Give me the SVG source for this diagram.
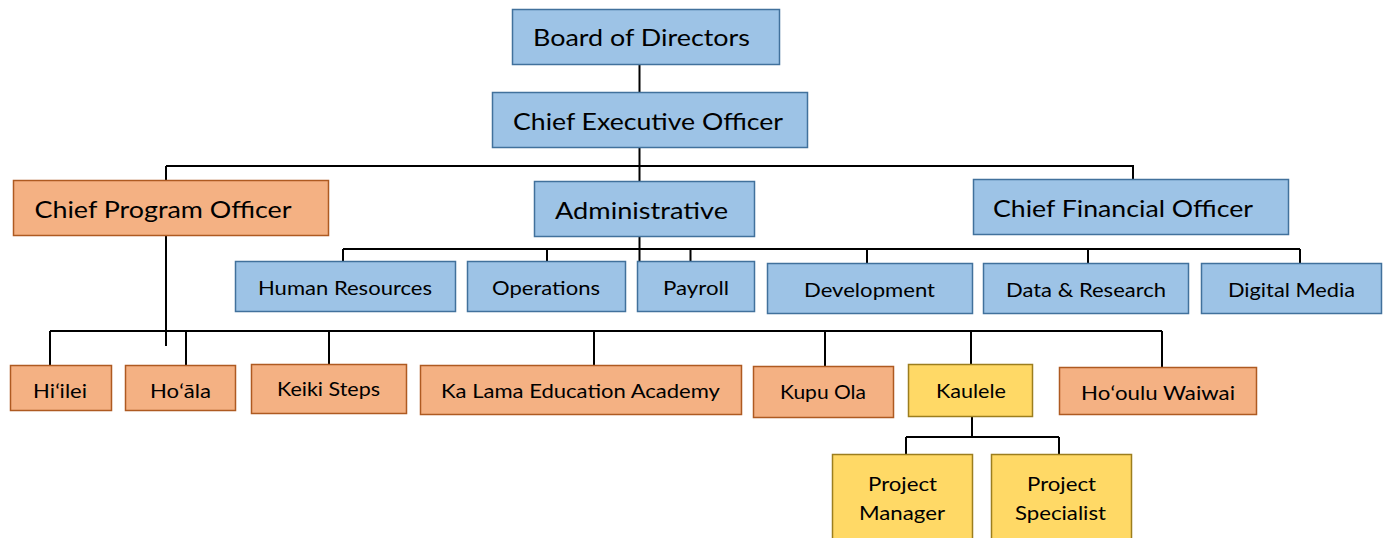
<svg xmlns="http://www.w3.org/2000/svg" width="1387" height="538" viewBox="0 0 1387 538">
  <style>
    .blue { fill: #9DC3E6; stroke: #41719C; stroke-width: 1.5; }
    .orange { fill: #F4B183; stroke: #AE5A21; stroke-width: 1.5; }
    .yellow { fill: #FFD966; stroke: #9C7E1E; stroke-width: 1.5; }
    text { font-family: Lato, "Open Sans", sans-serif; fill: #000; text-anchor: middle; }
    .lg { font-size: 24px; }
    .md { font-size: 20px; }
    #connectors path { fill: none; stroke: #000; stroke-width: 2; }
  </style>
  <rect width="1387" height="538" fill="#fff"/>

  <g id="connectors">
    <path d="M639.5 64 V93"/>
    <path d="M639.5 148 V262"/>
    <path d="M166 166 H1133 V179"/>
    <path d="M166 166 V346"/>
    <path d="M343 249 H1300"/>
    <path d="M343 249 V261 M547 249 V261 M690.5 249 V261 M867 249 V263 M1088 249 V263 M1300 249 V263"/>
    <path d="M50 331 H1162"/>
    <path d="M50 331 V365 M186 331 V365 M329 331 V364 M594 331 V365 M825 331 V366 M971 331 V364 M1162 331 V368"/>
    <path d="M972 417 V437 M906 437 H1059 M906 437 V454 M1059 437 V454"/>
  </g>

  <g id="board"><rect class="blue" x="512.5" y="9.5" width="267" height="55"/><text class="lg" x="641.5" y="46" textLength="217" lengthAdjust="spacingAndGlyphs">Board of Directors</text></g>
  <g id="ceo"><rect class="blue" x="492.5" y="92.5" width="315" height="55"/><text class="lg" x="648" y="130" textLength="270" lengthAdjust="spacingAndGlyphs">Chief Executive Officer</text></g>
  <g id="cpo"><rect class="orange" x="13.5" y="180.5" width="315" height="55"/><text class="lg" x="163" y="218" textLength="257" lengthAdjust="spacingAndGlyphs">Chief Program Officer</text></g>
  <g id="admin"><rect class="blue" x="534.5" y="181.5" width="220" height="55"/><text class="lg" x="641.5" y="219" textLength="173" lengthAdjust="spacingAndGlyphs">Administrative</text></g>
  <g id="cfo"><rect class="blue" x="973.5" y="179.5" width="315" height="55"/><text class="lg" x="1123" y="217" textLength="260" lengthAdjust="spacingAndGlyphs">Chief Financial Officer</text></g>

  <g id="hr"><rect class="blue" x="235.5" y="261.5" width="220" height="50"/><text class="md" x="345" y="295" textLength="174" lengthAdjust="spacingAndGlyphs">Human Resources</text></g>
  <g id="operations"><rect class="blue" x="467.5" y="261.5" width="158" height="50"/><text class="md" x="546" y="295" textLength="108" lengthAdjust="spacingAndGlyphs">Operations</text></g>
  <g id="payroll"><rect class="blue" x="637.5" y="261.5" width="117" height="50"/><text class="md" x="696" y="295" textLength="66" lengthAdjust="spacingAndGlyphs">Payroll</text></g>
  <g id="development"><rect class="blue" x="767.5" y="263.5" width="205" height="50"/><text class="md" x="869.5" y="297" textLength="131" lengthAdjust="spacingAndGlyphs">Development</text></g>
  <g id="data-research"><rect class="blue" x="983.5" y="263.5" width="205" height="50"/><text class="md" x="1086" y="297" textLength="160" lengthAdjust="spacingAndGlyphs">Data &amp; Research</text></g>
  <g id="digital-media"><rect class="blue" x="1201.5" y="263.5" width="180" height="50"/><text class="md" x="1291.5" y="297" textLength="127" lengthAdjust="spacingAndGlyphs">Digital Media</text></g>

  <g id="hiilei"><rect class="orange" x="10.5" y="365.5" width="101" height="45"/><text class="md" x="60" y="398" textLength="54" lengthAdjust="spacingAndGlyphs">Hiʻilei</text></g>
  <g id="hoala"><rect class="orange" x="125.5" y="365.5" width="110" height="45"/><text class="md" x="180.5" y="398" textLength="61" lengthAdjust="spacingAndGlyphs">Hoʻāla</text></g>
  <g id="keiki-steps"><rect class="orange" x="251.5" y="364.5" width="155" height="49"/><text class="md" x="328.5" y="396" textLength="103" lengthAdjust="spacingAndGlyphs">Keiki Steps</text></g>
  <g id="ka-lama"><rect class="orange" x="420.5" y="365.5" width="321" height="49"/><text class="md" x="580.5" y="398" textLength="279" lengthAdjust="spacingAndGlyphs">Ka Lama Education Academy</text></g>
  <g id="kupu-ola"><rect class="orange" x="753.5" y="366.5" width="140" height="51"/><text class="md" x="823" y="399" textLength="86" lengthAdjust="spacingAndGlyphs">Kupu Ola</text></g>
  <g id="kaulele"><rect class="yellow" x="908.5" y="364.5" width="124" height="52"/><text class="md" x="971" y="398" textLength="70" lengthAdjust="spacingAndGlyphs">Kaulele</text></g>
  <g id="hooulu-waiwai"><rect class="orange" x="1059.5" y="367.5" width="197" height="47"/><text class="md" x="1158" y="400" textLength="154" lengthAdjust="spacingAndGlyphs">Hoʻoulu Waiwai</text></g>

  <g id="project-manager"><rect class="yellow" x="832.5" y="454.5" width="140" height="90"/><text class="md" x="902.5" y="491" textLength="69" lengthAdjust="spacingAndGlyphs">Project</text><text class="md" x="902" y="520" textLength="86" lengthAdjust="spacingAndGlyphs">Manager</text></g>
  <g id="project-specialist"><rect class="yellow" x="991.5" y="454.5" width="140" height="90"/><text class="md" x="1061.5" y="491" textLength="69" lengthAdjust="spacingAndGlyphs">Project</text><text class="md" x="1060.5" y="520" textLength="91" lengthAdjust="spacingAndGlyphs">Specialist</text></g>
</svg>
